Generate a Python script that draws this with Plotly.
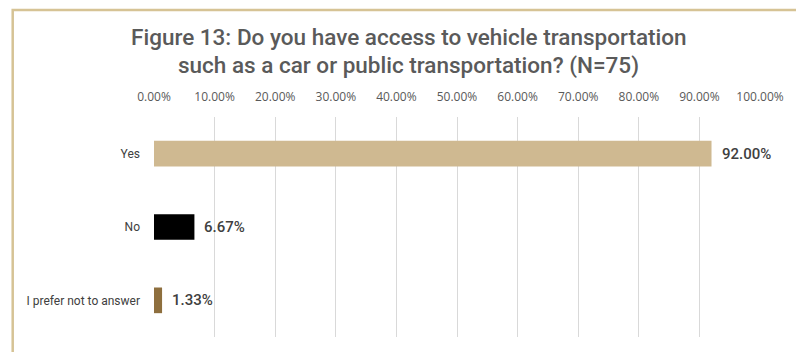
import plotly.graph_objects as go

# Survey responses
categories = ["Yes", "No", "I prefer not to answer"]
percentages = [92.00, 6.67, 1.33]
bar_colors = ["#CFB991", "#000000", "#8E6F3E"]
tick_values = [0, 10, 20, 30, 40, 50, 60, 70, 80, 90, 100]
tick_labels = [f"{v:.2f}%" for v in tick_values]
title_lines = [
    "Figure 13: Do you have access to vehicle transportation",
    "such as a car or public transportation? (N=75)",
]

W, H = 796, 352
L, R, T, B = 154, 33, 117, 15
plot_w = W - L - R
plot_h = H - T - B


def px_x(px):
    return (px - L) / plot_w


def px_y(py):
    return (H - B - py) / plot_h


fig = go.Figure(
    go.Bar(
        y=categories,
        x=percentages,
        orientation="h",
        marker=dict(color=bar_colors, line=dict(width=0)),
        width=0.35,
        hoverinfo="x+y",
    )
)

# Value labels just past the end of each bar
for cat, pct in zip(categories, percentages):
    fig.add_annotation(
        x=pct, y=cat, xref="x", yref="y",
        text=f"{pct:.2f}%", showarrow=False,
        xanchor="left", yanchor="middle", xshift=8,
        font=dict(family="Roboto", size=15, color="#404040", weight=500),
    )

# Two-line heading
for line, py in zip(title_lines, [37, 65]):
    fig.add_annotation(
        x=px_x(410), y=px_y(py), xref="paper", yref="paper",
        text=line, showarrow=False, xanchor="center", yanchor="middle",
        font=dict(family="Roboto", size=22.5, color="#5a5a5a", weight=500),
    )

# Outer frame around the chart
fig.add_shape(
    type="rect", xref="paper", yref="paper",
    x0=px_x(12), x1=px_x(802), y0=px_y(362), y1=px_y(10),
    line=dict(color="#D6C395", width=2.5), fillcolor="rgba(0,0,0,0)",
    layer="below",
)

fig.update_layout(
    width=W, height=H,
    margin=dict(l=L, r=R, t=T, b=B),
    paper_bgcolor="white", plot_bgcolor="white",
    showlegend=False,
    xaxis=dict(
        range=[0, 100], side="top",
        tickvals=tick_values, ticktext=tick_labels,
        tickfont=dict(family="Open Sans", size=12, color="#595959"),
        showgrid=True, gridcolor="#D9D9D9", gridwidth=1,
        zeroline=False, showline=False, ticks="", ticklabelstandoff=13,
    ),
    yaxis=dict(
        autorange="reversed",
        tickfont=dict(family="Roboto", size=12, color="#404040"),
        showgrid=False, zeroline=False, showline=False, ticks="",
        ticklabelstandoff=13,
    ),
)

fig.write_html("out.html")
